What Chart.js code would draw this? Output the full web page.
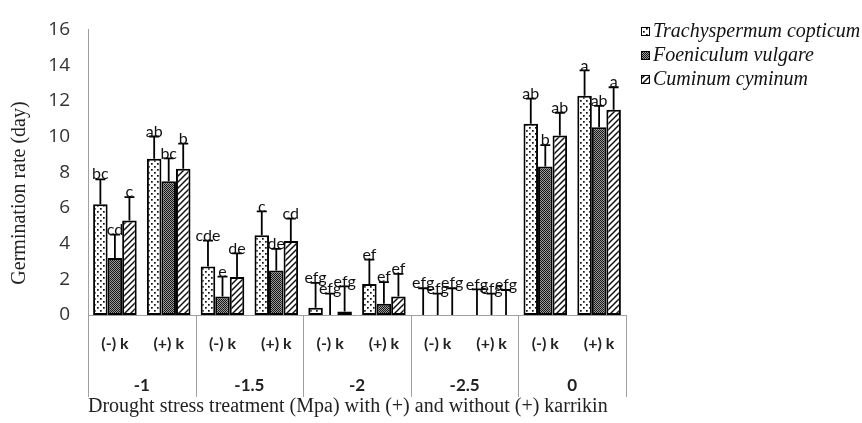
<!DOCTYPE html>
<html>
<head>
<meta charset="utf-8">
<script src="https://cdn.jsdelivr.net/npm/chart.js@4.4.0/dist/chart.umd.min.js"></script>
<style>
  html, body { margin: 0; padding: 0; background: #fff; }
</style>
</head>
<body>
<canvas id="chart" width="862" height="423"></canvas>
<script>
// data
const karrikin = ['(-) k', '(+) k', '(-) k', '(+) k', '(-) k', '(+) k', '(-) k', '(+) k', '(-) k', '(+) k'];
const droughtLevels = ['-1', '-1.5', '-2', '-2.5', '0'];
const yTicks = [0, 2, 4, 6, 8, 10, 12, 14, 16];

const speciesNames = ['Trachyspermum copticum', 'Foeniculum vulgare', 'Cuminum cyminum'];

const trachyRate = [6.2, 8.75, 2.72, 4.47, 0.41, 1.74, 0, 0, 10.72, 12.28];
const foeniRate  = [3.2, 7.5, 1.04, 2.5, 0, 0.63, 0, 0, 8.32, 10.52];
const cuminRate  = [5.3, 8.2, 2.13, 4.15, 0.2, 1.04, 0, 0, 10.05, 11.5];

const trachySd = [1.4, 1.25, 1.45, 1.33, 1.39, 1.36, 1.5, 1.43, 1.4, 1.42];
const foeniSd  = [1.3, 1.27, 1.11, 1.2, 1.2, 1.21, 1.2, 1.2, 1.2, 1.2];
const cuminSd  = [1.3, 1.4, 1.32, 1.25, 1.4, 1.26, 1.5, 1.4, 1.28, 1.26];

const trachyLetters = ['bc', 'ab', 'cde', 'c', 'efg', 'ef', 'efg', 'efg', 'ab', 'a'];
const foeniLetters  = ['cd', 'bc', 'e', 'de', 'efg', 'ef', 'efg', 'efg', 'b', 'ab'];
const cuminLetters  = ['c', 'b', 'de', 'cd', 'efg', 'ef', 'efg', 'efg', 'ab', 'a'];

const canvas = document.getElementById('chart');
const ctx = canvas.getContext('2d');

// fill patterns like the excel ones
function makePattern(size, paint) {
    const c = document.createElement('canvas');
    c.width = size; c.height = size;
    const g = c.getContext('2d');
    paint(g, size);
    return ctx.createPattern(c, 'repeat');
}
const dotted = makePattern(6, (g, s) => {
    g.fillStyle = '#fff'; g.fillRect(0, 0, s, s);
    g.fillStyle = '#111';
    g.fillRect(1, 1, 1.7, 1.7);
    g.fillRect(4, 4, 1.7, 1.7);
});
const dense = makePattern(2, (g, s) => {
    g.fillStyle = '#9a9a9a'; g.fillRect(0, 0, s, s);
    g.fillStyle = '#151515';
    g.fillRect(0, 0, 1, 1);
    g.fillRect(1, 1, 1, 1);
});
const hatched = makePattern(6, (g, s) => {
    g.fillStyle = '#fff'; g.fillRect(0, 0, s, s);
    g.strokeStyle = '#111'; g.lineWidth = 1.5;
    g.beginPath();
    g.moveTo(0, s); g.lineTo(s, 0);
    g.moveTo(-1, 1); g.lineTo(1, -1);
    g.moveTo(s - 1, s + 1); g.lineTo(s + 1, s - 1);
    g.stroke();
});

const sds = [trachySd, foeniSd, cuminSd];
const letters = [trachyLetters, foeniLetters, cuminLetters];

const extras = {
    id: 'extras',
    afterDatasetsDraw(chart) {
        const c = chart.ctx;
        const y = chart.scales.y;
        c.save();
        c.strokeStyle = '#000';
        c.lineWidth = 1.8;
        c.fillStyle = '#111';
        c.font = '16px Lato';
        c.textAlign = 'center';
        c.textBaseline = 'bottom';
        chart.data.datasets.forEach((ds, i) => {
            const meta = chart.getDatasetMeta(i);
            meta.data.forEach((bar, j) => {
                const top = y.getPixelForValue(ds.data[j] + sds[i][j]);
                c.beginPath();
                c.moveTo(bar.x, bar.y);
                c.lineTo(bar.x, top);
                c.moveTo(bar.x - 5, top);
                c.lineTo(bar.x + 5, top);
                c.stroke();
                c.fillText(letters[i][j], bar.x, top + 3);
            });
        });
        c.restore();
    },
    afterDraw(chart) {
        const c = chart.ctx;
        const x = chart.scales.x;
        const area = chart.chartArea;
        const w = x.width / karrikin.length;
        c.save();
        // group dividers under the axis
        c.strokeStyle = '#a0a0a0';
        c.lineWidth = 1;
        for (let g = 0; g <= droughtLevels.length; g++) {
            const px = Math.round(x.left + g * 2 * w) + 0.5;
            c.beginPath();
            c.moveTo(px, area.bottom);
            c.lineTo(px, area.bottom + 82);
            c.stroke();
        }
        c.fillStyle = '#222';
        c.font = 'bold 17px Lato';
        c.textAlign = 'center';
        c.textBaseline = 'middle';
        droughtLevels.forEach((lab, g) => {
            c.fillText(lab, x.left + (g * 2 + 1) * w, area.bottom + 71);
        });

        // y title
        c.save();
        c.translate(20, 193);
        c.rotate(-Math.PI / 2);
        c.font = '20px "Liberation Serif"';
        c.fillStyle = '#222';
        c.fillText('Germination rate (day)', 0, 0);
        c.restore();

        // legend
        const fills = chart.data.datasets.map(d => d.backgroundColor);
        c.textAlign = 'left';
        c.font = 'italic 20px "Liberation Serif"';
        speciesNames.forEach((name, i) => {
            const cy = 32 + i * 24;
            c.fillStyle = fills[i];
            c.fillRect(641, cy - 5, 9, 9);
            c.strokeStyle = '#000';
            c.lineWidth = 1;
            c.strokeRect(641.5, cy - 4.5, 8, 8);
            c.fillStyle = '#111';
            c.fillText(name, 653, cy);
        });
        c.restore();
    }
};

function barSet(label, values, fill) {
    return {
        label: label,
        data: values,
        backgroundColor: fill,
        borderColor: '#000',
        borderWidth: 2,
        borderSkipped: false,
        barPercentage: 1.0,
        categoryPercentage: 0.81
    };
}

new Chart(ctx, {
    type: 'bar',
    data: {
        labels: karrikin,
        datasets: [
            barSet(speciesNames[0], trachyRate, dotted),
            barSet(speciesNames[1], foeniRate, dense),
            barSet(speciesNames[2], cuminRate, hatched)
        ]
    },
    options: {
        responsive: false,
        animation: false,
        layout: { padding: { top: 17, right: 236, bottom: 0, left: 0 } },
        plugins: {
            legend: { display: false },
            tooltip: { enabled: false }
        },
        scales: {
            x: {
                grid: { display: false, drawTicks: false },
                border: { display: true, color: '#a0a0a0', width: 1 },
                ticks: {
                    color: '#222',
                    font: { family: 'Lato', size: 16, weight: 'bold' },
                    padding: 19,
                    maxRotation: 0,
                    autoSkip: false
                },
                title: {
                    display: true,
                    text: 'Drought stress treatment (Mpa) with (+) and without (+) karrikin',
                    align: 'start',
                    color: '#222',
                    font: { family: 'Liberation Serif', size: 20 },
                    padding: { top: 0, bottom: 4 }
                },
                afterFit: s => { s.height = 108; }
            },
            y: {
                min: 0,
                max: 16,
                afterBuildTicks: s => { s.ticks = yTicks.map(v => ({ value: v })); },
                grid: { display: false, drawTicks: false },
                border: { display: true, color: '#a0a0a0', width: 1 },
                ticks: {
                    color: '#333',
                    font: { family: 'Open Sans', size: 19 },
                    padding: 18
                },
                afterFit: s => { s.width = 88; }
            }
        }
    },
    plugins: [extras]
});
</script>
</body>
</html>
